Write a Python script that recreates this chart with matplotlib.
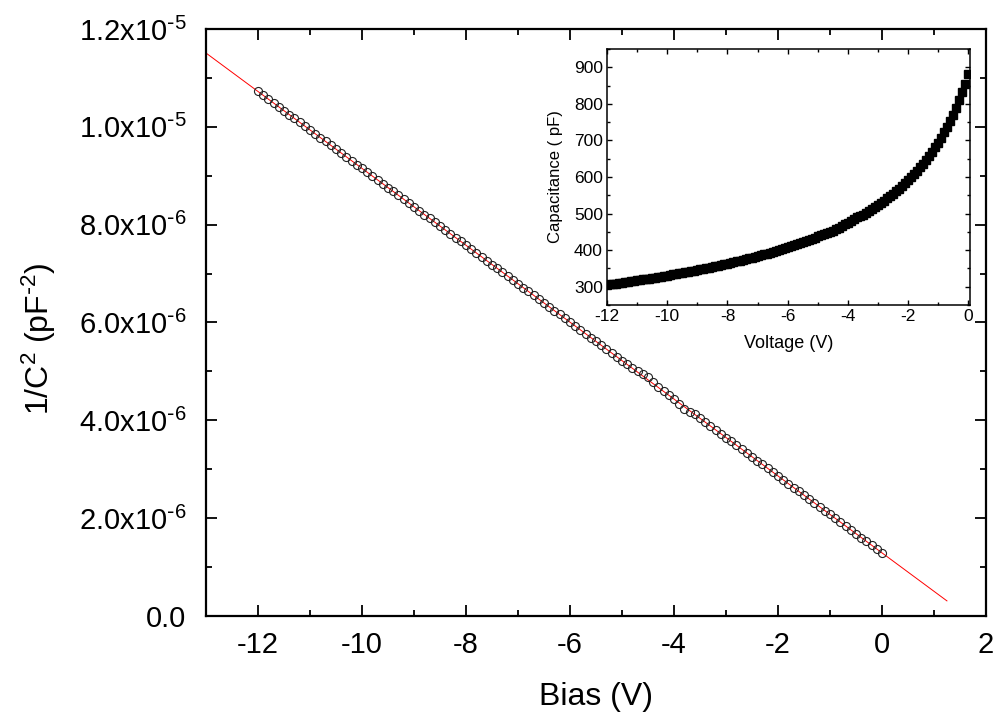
import numpy as np
import matplotlib
matplotlib.use("Agg")
import matplotlib.pyplot as plt
from matplotlib.ticker import MultipleLocator, FixedLocator

plt.rcParams['font.family'] = ['Liberation Sans', 'DejaVu Sans']
plt.rcParams['mathtext.default'] = 'regular'
plt.rcParams['axes.unicode_minus'] = False

# ---- data ----
bias = [round(-12.0 + 0.1 * i, 1) for i in range(121)]

# 1/C^2 in units of 1e-6 pF^-2
inv_c2_e6 = [
    10.722, 10.643, 10.565, 10.486, 10.408, 10.329, 10.250, 10.172, 10.093, 10.015,
    9.936, 9.857, 9.779, 9.700, 9.622, 9.543, 9.464, 9.386, 9.307, 9.229,
    9.150, 9.071, 8.993, 8.914, 8.836, 8.757, 8.678, 8.600, 8.521, 8.443,
    8.364, 8.285, 8.207, 8.128, 8.050, 7.971, 7.892, 7.814, 7.735, 7.657,
    7.578, 7.499, 7.421, 7.342, 7.264, 7.185, 7.106, 7.028, 6.949, 6.871,
    6.792, 6.713, 6.635, 6.556, 6.478, 6.399, 6.320, 6.242, 6.163, 6.085,
    6.006, 5.927, 5.849, 5.770, 5.692, 5.613, 5.534, 5.456, 5.377, 5.299,
    5.220, 5.141, 5.063, 5.014, 4.956, 4.877, 4.788, 4.690, 4.591, 4.513,
    4.434, 4.325, 4.237, 4.168, 4.120, 4.041, 3.962, 3.884, 3.805, 3.727,
    3.648, 3.569, 3.491, 3.412, 3.334, 3.255, 3.176, 3.098, 3.019, 2.941,
    2.862, 2.783, 2.705, 2.626, 2.548, 2.469, 2.390, 2.312, 2.233, 2.155,
    2.076, 1.997, 1.919, 1.840, 1.762, 1.683, 1.604, 1.526, 1.447, 1.369,
    1.290,
]

# Capacitance (pF) for the inset
capacitance = [
    305.4, 306.5, 307.7, 308.8, 310.0, 311.2, 312.3, 313.5, 314.8, 316.0,
    317.2, 318.5, 319.8, 321.1, 322.4, 323.7, 325.1, 326.4, 327.8, 329.2,
    330.6, 332.0, 333.5, 334.9, 336.4, 337.9, 339.5, 341.0, 342.6, 344.2,
    345.8, 347.4, 349.1, 350.8, 352.4, 354.2, 356.0, 357.7, 359.6, 361.4,
    363.3, 365.2, 367.1, 369.1, 371.0, 373.1, 375.1, 377.2, 379.4, 381.5,
    383.7, 386.0, 388.2, 390.6, 392.9, 395.3, 397.8, 400.3, 402.8, 405.4,
    408.0, 410.8, 413.5, 416.3, 419.1, 422.1, 425.1, 428.1, 431.3, 434.4,
    437.7, 441.0, 444.4, 446.6, 449.2, 452.8, 457.0, 461.8, 466.7, 470.7,
    474.9, 480.8, 485.8, 489.8, 492.7, 497.5, 502.4, 507.4, 512.7, 518.0,
    523.6, 529.3, 535.2, 541.4, 547.7, 554.3, 561.1, 568.1, 575.5, 583.1,
    591.1, 599.4, 608.0, 617.1, 626.5, 636.4, 646.8, 657.7, 669.2, 681.2,
    694.0, 707.6, 721.9, 737.2, 753.4, 770.8, 789.6, 809.5, 831.3, 854.7,
    880.4,
]

fit_range = [-13.0, 1.25]

main_xticks = [-12, -10, -8, -6, -4, -2, 0, 2]
main_yticks = [0.0, 2.0e-6, 4.0e-6, 6.0e-6, 8.0e-6, 1.0e-5, 1.2e-5]
main_yticklabels = ['0.0', r'2.0x10$^{\text{-}6}$', r'4.0x10$^{\text{-}6}$',
                    r'6.0x10$^{\text{-}6}$', r'8.0x10$^{\text{-}6}$',
                    r'1.0x10$^{\text{-}5}$', r'1.2x10$^{\text{-}5}$']
inset_xticks = [-12, -10, -8, -6, -4, -2, 0]
inset_yticks = [300, 400, 500, 600, 700, 800, 900]

# ---- figure ----
fig = plt.figure(figsize=(9.97, 7.17), dpi=100)
ax = fig.add_axes([0.2066, 0.1409, 0.7823, 0.8187])

x = np.array(bias)
y = np.array(inv_c2_e6) * 1e-6
coef = np.polyfit(x, y, 1)
xf = np.array(fit_range)
ax.plot(xf, np.polyval(coef, xf), color='red', lw=0.7, zorder=2)
ax.plot(x, y, linestyle='none', marker='o', markersize=5.8,
        markerfacecolor='none', markeredgecolor='#222222', markeredgewidth=0.8,
        zorder=3)

ax.set_xlim(-13, 2)
ax.set_ylim(0, 1.2e-5)
ax.xaxis.set_major_locator(FixedLocator(main_xticks))
ax.xaxis.set_minor_locator(MultipleLocator(1))
ax.yaxis.set_major_locator(FixedLocator(main_yticks))
ax.yaxis.set_minor_locator(MultipleLocator(1e-6))
ax.set_xticklabels([str(v) for v in main_xticks])
ax.set_yticklabels(main_yticklabels)
ax.tick_params(which='both', direction='in', top=True, right=True)
ax.tick_params(which='major', length=8, width=1.3, labelsize=21)
ax.tick_params(which='minor', length=4.5, width=1.3)
ax.tick_params(axis='x', which='major', pad=11)
ax.tick_params(axis='y', which='major', pad=14)
for s in ax.spines.values():
    s.set_linewidth(1.6)

ax.set_xlabel('Bias (V)', fontsize=23)
ax.set_ylabel(r'1/C$^2$ (pF$^{\text{-}2}$)', fontsize=23)
ax.xaxis.set_label_coords(0.5, -0.113)
ax.yaxis.set_label_coords(-0.19, 0.472)

# ---- inset ----
axi = fig.add_axes([0.6088, 0.5746, 0.3641, 0.3570])
axi.plot(bias, capacitance, linestyle='none', marker='s', markersize=6.4,
         color='black')
axi.set_xlim(-12, 0.05)
axi.set_ylim(250, 950)
axi.xaxis.set_major_locator(FixedLocator(inset_xticks))
axi.xaxis.set_minor_locator(MultipleLocator(1))
axi.yaxis.set_major_locator(FixedLocator(inset_yticks))
axi.yaxis.set_minor_locator(MultipleLocator(50))
axi.set_xticklabels([str(v) for v in inset_xticks])
axi.set_yticklabels([str(v) for v in inset_yticks])
axi.tick_params(which='both', direction='in', top=True, right=True, width=1.0)
axi.tick_params(which='major', length=3.5, labelsize=12.5, pad=3)
axi.tick_params(which='minor', length=2.2)
for s in axi.spines.values():
    s.set_linewidth(1.1)
axi.set_xlabel('Voltage (V)', fontsize=13, labelpad=8)
axi.set_ylabel('Capacitance ( pF)', fontsize=12, labelpad=8)

fig.savefig('out.png', dpi=100)
